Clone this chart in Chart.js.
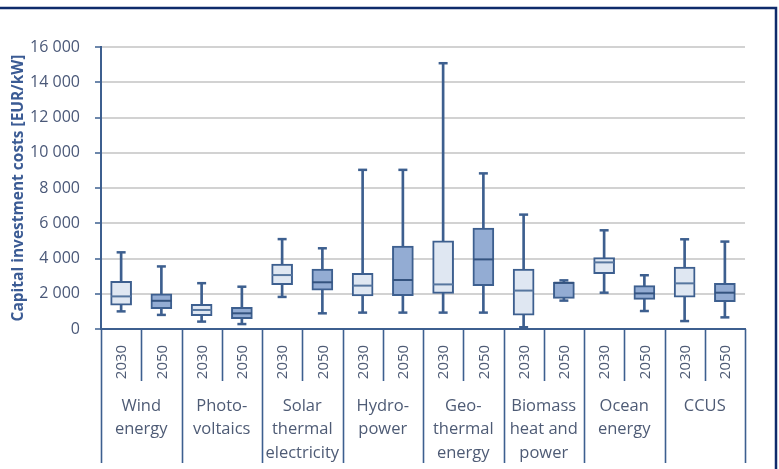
<!DOCTYPE html>
<html>
<head>
<meta charset="utf-8">
<script src="https://cdn.jsdelivr.net/npm/chart.js@4"></script>
<style>
  html, body { margin: 0; padding: 0; background: #ffffff; }
  #wrap { width: 779px; height: 469px; position: relative; }
</style>
</head>
<body>
<div id="wrap"><canvas id="c" width="779" height="469"></canvas></div>
<script>
// Technology groups (each has a 2030 and a 2050 box), multi-line names
const groups = [
  ['Wind', 'energy'],
  ['Photo-', 'voltaics'],
  ['Solar', 'thermal', 'electricity'],
  ['Hydro-', 'power'],
  ['Geo-', 'thermal', 'energy'],
  ['Biomass', 'heat and', 'power'],
  ['Ocean', 'energy'],
  ['CCUS']
];
const years = ['2030', '2050'];

// Box-plot statistics, EUR/kW, in order: group by group, 2030 then 2050
const mins    = [1000,  800,  420,  280, 1820,  890,  930,  930,   930,  930,  100, 1610, 2060, 1020,  450,  660];
const q1s     = [1350, 1150,  760,  590, 2510, 2200, 1870, 1890,  2020, 2460,  780, 1740, 3140, 1680, 1800, 1550];
const medians = [1850, 1600, 1080,  890, 3060, 2650, 2460, 2780,  2530, 3950, 2180, 2620, 3780, 2020, 2590, 2060];
const q3s     = [2700, 2000, 1400, 1230, 3690, 3400, 3160, 4710,  5000, 5730, 3400, 2660, 4050, 2460, 3520, 2590];
const maxs    = [4350, 3550, 2600, 2400, 5100, 4580, 9030, 9030, 15080, 8830, 6490, 2760, 5600, 3050, 5090, 4960];

// Y axis tick values
const yTicks = [0, 2000, 4000, 6000, 8000, 10000, 12000, 14000, 16000];

const labels = [];
groups.forEach(() => years.forEach(y => labels.push(y)));

const INK = '#3d5f8f';
const FILL_2030 = '#dfe7f2';
const FILL_2050 = '#93acd3';
const fills = labels.map((_, i) => (i % 2 === 0 ? FILL_2030 : FILL_2050));
const medianColors = labels.map((_, i) => (i % 2 === 0 ? '#56769f' : '#34537f'));
const MAIN_FONT = 'Open Sans';

// thousands separated by a space: 16000 -> "16 000"
function fmt(v) {
  return String(v).replace(/\B(?=(\d{3})+(?!\d))/g, ' ');
}

// Category table under the x axis: year cells, group cells and dividers
const tablePlugin = {
  id: 'categoryTable',
  afterDraw(chart) {
    const ctx = chart.ctx;
    const xs = chart.scales.x;
    const top = chart.chartArea.bottom;
    const n = labels.length;
    const w = xs.getPixelForValue(1) - xs.getPixelForValue(0);
    const edge = k => xs.getPixelForValue(0) - w / 2 + k * w;

    ctx.save();
    ctx.strokeStyle = INK;
    ctx.lineWidth = 1.6;
    for (let k = 0; k <= n; k++) {
      const x = Math.round(edge(k)) + 0.5;
      ctx.beginPath();
      ctx.moveTo(x, top);
      ctx.lineTo(x, k % 2 === 0 ? 463 : 381);
      ctx.stroke();
    }

    ctx.fillStyle = '#4e5b75';
    ctx.font = '15px "' + MAIN_FONT + '"';
    ctx.textAlign = 'center';
    ctx.textBaseline = 'middle';
    for (let i = 0; i < n; i++) {
      const cx = xs.getPixelForValue(i);
      ctx.save();
      ctx.translate(cx + 1, 362);
      ctx.rotate(-Math.PI / 2);
      ctx.fillText(labels[i], 0, 0);
      ctx.restore();
    }

    ctx.font = '16.5px "' + MAIN_FONT + '"';
    groups.forEach((lines, g) => {
      const cx = (edge(2 * g) + edge(2 * g + 2)) / 2;
      lines.forEach((t, j) => ctx.fillText(t, cx, 406 + j * 23.5));
    });

    // outer frame lines (top and right)
    ctx.strokeStyle = '#0f2b6b';
    ctx.lineWidth = 2.5;
    ctx.beginPath();
    ctx.moveTo(0, 8);
    ctx.lineTo(776, 8);
    ctx.lineTo(776, 469);
    ctx.stroke();
    ctx.restore();
  }
};

new Chart(document.getElementById('c'), {
  type: 'bar',
  data: {
    labels: labels,
    datasets: [
      {
        type: 'line',
        data: maxs,
        showLine: false,
        pointStyle: 'line',
        pointRadius: 4.5,
        pointHoverRadius: 4.5,
        pointBorderWidth: 2.5,
        pointBorderColor: INK,
        order: 1
      },
      {
        type: 'line',
        data: mins,
        showLine: false,
        pointStyle: 'line',
        pointRadius: 4.5,
        pointHoverRadius: 4.5,
        pointBorderWidth: 2.5,
        pointBorderColor: INK,
        order: 1
      },
      {
        type: 'line',
        data: medians,
        showLine: false,
        pointStyle: 'line',
        pointRadius: 10,
        pointHoverRadius: 10,
        pointBorderWidth: 2,
        pointBorderColor: medianColors,
        order: 1
      },
      {
        data: q1s.map((v, i) => [v, q3s[i]]),
        backgroundColor: fills,
        borderColor: INK,
        borderWidth: 2,
        borderSkipped: false,
        barThickness: 21,
        grouped: false,
        order: 2
      },
      {
        data: mins.map((v, i) => [v, maxs[i]]),
        backgroundColor: INK,
        borderWidth: 0,
        barThickness: 2,
        grouped: false,
        order: 3
      }
    ]
  },
  options: {
    responsive: false,
    animation: false,
    events: [],
    layout: { padding: { top: 47, right: 34, left: 0, bottom: 0 } },
    plugins: {
      legend: { display: false },
      tooltip: { enabled: false }
    },
    scales: {
      x: {
        type: 'category',
        ticks: { display: false },
        grid: { display: false, drawTicks: false },
        border: { display: true, color: INK, width: 2 },
        afterFit(scale) { scale.height = 140; }
      },
      y: {
        min: 0,
        max: 16000,
        afterBuildTicks(scale) { scale.ticks = yTicks.map(v => ({ value: v })); },
        ticks: {
          color: '#4a5878',
          font: { family: MAIN_FONT, size: 16 },
          padding: 15,
          callback: v => fmt(v)
        },
        grid: {
          color: '#d2d2d2',
          lineWidth: 2,
          tickColor: INK,
          tickLength: 6,
          tickWidth: 1.5
        },
        border: { display: true, color: INK, width: 2 },
        title: {
          display: true,
          text: 'Capital investment costs [EUR/kW]',
          color: '#3b5b94',
          font: { family: MAIN_FONT, size: 15.5, weight: 'bold' },
          padding: { top: 9, bottom: 0 }
        },
        afterFit(scale) { scale.width = 101; }
      }
    }
  },
  plugins: [tablePlugin]
});
</script>
</body>
</html>
